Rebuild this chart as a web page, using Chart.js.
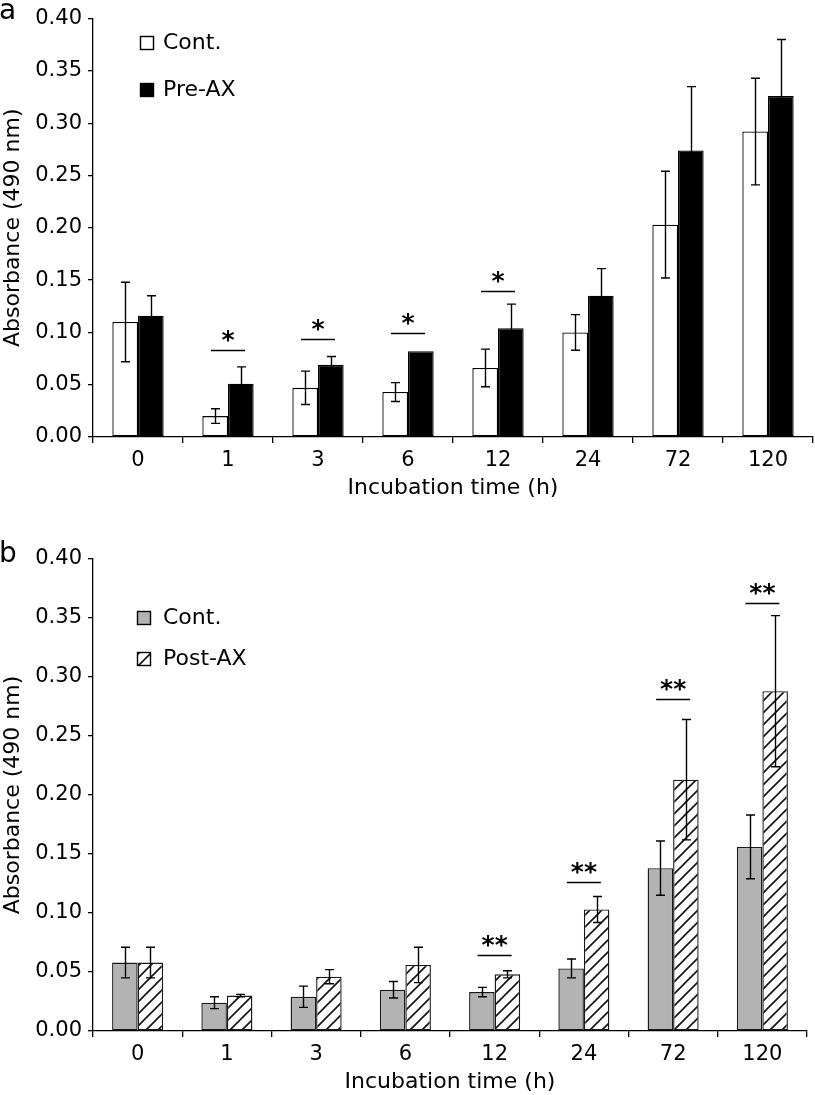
<!DOCTYPE html>
<html><head><meta charset="utf-8">
<script src="https://cdn.jsdelivr.net/npm/chart.js@4.4.0/dist/chart.umd.min.js"></script>
<style>
html,body{margin:0;padding:0;background:#fff;}
#wrapA{position:absolute;left:0;top:0;width:815px;height:502px;}
#wrapB{position:absolute;left:0;top:540px;width:815px;height:555px;}
canvas{display:block;}
</style></head><body>
<div id="wrapA"><canvas id="chartA" width="815" height="502"></canvas></div>
<div id="wrapB"><canvas id="chartB" width="815" height="555"></canvas></div>
<script>
// ---- data ----
const categories = ['0', '1', '3', '6', '12', '24', '72', '120'];

const contA    = [0.110, 0.020, 0.047, 0.043, 0.066, 0.100, 0.203, 0.292];
const contAErr = [0.038, 0.007, 0.016, 0.009, 0.018, 0.017, 0.051, 0.051];
const preAX    = [0.116, 0.051, 0.069, 0.082, 0.104, 0.135, 0.274, 0.326];
const preAXErr = [0.019, 0.016, 0.008, 0.000, 0.023, 0.026, 0.061, 0.054];
const sigA     = ['', '*', '*', '*', '*', '', '', ''];
const sigAY    = [null, 0.083, 0.094, 0.099, 0.140, null, null, null];

const contB    = [0.058, 0.024, 0.029, 0.035, 0.033, 0.053, 0.138, 0.156];
const contBErr = [0.013, 0.005, 0.009, 0.007, 0.004, 0.008, 0.023, 0.027];
const postAX   = [0.058, 0.030, 0.046, 0.056, 0.048, 0.103, 0.213, 0.288];
const postAXErr= [0.013, 0.001, 0.006, 0.015, 0.003, 0.011, 0.051, 0.064];
const sigB     = ['', '', '', '', '**', '**', '**', '**'];
const sigBY    = [null, null, null, null, 0.064, 0.126, 0.281, 0.363];

const yTickMin = 0, yTickMax = 0.40, yTickStep = 0.05;
const xTitle = 'Incubation time (h)';
const yTitle = 'Absorbance (490 nm)';

const FONT = '"DejaVu Sans", Verdana, sans-serif';

// ---- hatch pattern ----
function makeHatch() {
  const s = 12;
  const c = document.createElement('canvas');
  c.width = s; c.height = s;
  const g = c.getContext('2d');
  g.fillStyle = '#fff'; g.fillRect(0, 0, s, s);
  g.strokeStyle = '#111'; g.lineWidth = 1.6;
  g.beginPath();
  g.moveTo(-2, s + 2); g.lineTo(s + 2, -2);
  g.moveTo(-2, 2); g.lineTo(2, -2);
  g.moveTo(s - 2, s + 2); g.lineTo(s + 2, s - 2);
  g.stroke();
  return g.createPattern(c, 'repeat');
}
const hatch = makeHatch();

// ---- plugins ----
const errorBarPlugin = {
  id: 'errbars',
  afterDatasetsDraw(chart) {
    const ctx = chart.ctx, y = chart.scales.y;
    ctx.save();
    ctx.strokeStyle = '#000'; ctx.lineWidth = 1.4;
    chart.data.datasets.forEach((ds, di) => {
      const meta = chart.getDatasetMeta(di);
      meta.data.forEach((bar, i) => {
        const e = ds.errors[i];
        if (!e) return;
        const v = ds.data[i];
        const x = Math.round(bar.x) + 0.5;
        const yt = y.getPixelForValue(v + e), yb = y.getPixelForValue(v - e);
        ctx.beginPath();
        ctx.moveTo(x, yt); ctx.lineTo(x, yb);
        ctx.moveTo(x - 4.5, yt); ctx.lineTo(x + 4.5, yt);
        ctx.moveTo(x - 4.5, yb); ctx.lineTo(x + 4.5, yb);
        ctx.stroke();
      });
    });
    ctx.restore();
  }
};

const sigPlugin = {
  id: 'sig',
  afterDatasetsDraw(chart, args, opts) {
    const ctx = chart.ctx, xs = chart.scales.x, ys = chart.scales.y;
    ctx.save();
    ctx.strokeStyle = '#000'; ctx.fillStyle = '#000'; ctx.lineWidth = 1.4;
    ctx.font = 'bold 25px ' + FONT; ctx.textAlign = 'center'; ctx.textBaseline = 'alphabetic';
    opts.labels.forEach((lab, i) => {
      if (!lab) return;
      const cx = xs.getPixelForValue(i);
      const yy = Math.round(ys.getPixelForValue(opts.values[i])) + 0.5;
      ctx.beginPath(); ctx.moveTo(cx - 17, yy); ctx.lineTo(cx + 17, yy); ctx.stroke();
      ctx.fillText(lab, cx, yy - 3);
    });
    ctx.restore();
  }
};

const legendPlugin = {
  id: 'customLegend',
  afterDraw(chart, args, opts) {
    const ctx = chart.ctx;
    ctx.save();
    // panel letter
    ctx.fillStyle = '#000'; ctx.font = '28px ' + FONT;
    ctx.textAlign = 'left'; ctx.textBaseline = 'alphabetic';
    ctx.fillText(opts.panel, -1, opts.panelY);
    chart.data.datasets.forEach((ds, i) => {
      const it = opts.items[i];
      ctx.fillStyle = ds.backgroundColor;
      ctx.fillRect(opts.boxX, it.y, 14, 14);
      ctx.strokeStyle = '#000'; ctx.lineWidth = 1.4;
      ctx.strokeRect(opts.boxX + 0.5, it.y + 0.5, 13, 13);
      ctx.fillStyle = '#000'; ctx.font = '22px ' + FONT;
      ctx.textBaseline = 'middle';
      ctx.fillText(ds.label, opts.textX, it.y + 7);
    });
    ctx.restore();
  }
};

function makeOptions(cfg) {
  return {
    responsive: false, animation: false,
    layout: { padding: { left: 0, right: cfg.padRight, top: cfg.padTop, bottom: 0 } },
    plugins: {
      legend: { display: false }, tooltip: { enabled: false },
      sig: cfg.sig,
      customLegend: cfg.legend
    },
    scales: {
      x: {
        grid: { display: true, drawOnChartArea: false, color: '#000', tickLength: 6, lineWidth: 1.3, offset: true },
        border: { color: '#000', width: 1.3 },
        ticks: { color: '#000', font: { family: FONT, size: 21 }, padding: 5 },
        title: { display: true, text: xTitle, color: '#000', font: { family: FONT, size: 22 }, padding: { top: 0, bottom: cfg.titleBottom } },
        afterFit: s => { s.height = cfg.xHeight; }
      },
      y: {
        min: yTickMin, max: yTickMax,
        ticks: { stepSize: yTickStep, callback: v => v.toFixed(2), color: '#000', font: { family: FONT, size: 21 }, padding: 6 },
        grid: { drawOnChartArea: false, color: '#000', tickLength: 5, lineWidth: 1.3 },
        border: { color: '#000', width: 1.3 },
        title: { display: true, text: yTitle, color: '#000', font: { family: FONT, size: 22 }, padding: 0 },
        afterFit: s => { s.width = 93; }
      }
    }
  };
}

new Chart(document.getElementById('chartA'), {
  type: 'bar',
  data: {
    labels: categories,
    datasets: [
      { label: 'Cont.', data: contA, errors: contAErr, backgroundColor: '#ffffff', borderColor: '#000', borderWidth: 1.3, borderSkipped: false,
        categoryPercentage: 0.57, barPercentage: 1.0 },
      { label: 'Pre-AX', data: preAX, errors: preAXErr, backgroundColor: '#000000', borderColor: '#000', borderWidth: 1.3, borderSkipped: false,
        categoryPercentage: 0.57, barPercentage: 1.0 }
    ]
  },
  options: makeOptions({
    padRight: 2, padTop: 14, xHeight: 65, titleBottom: 1,
    sig: { labels: sigA, values: sigAY },
    legend: { panel: 'a', panelY: 19, boxX: 140, textX: 163, items: [{ y: 36 }, { y: 83 }] }
  }),
  plugins: [errorBarPlugin, sigPlugin, legendPlugin]
});

new Chart(document.getElementById('chartB'), {
  type: 'bar',
  data: {
    labels: categories,
    datasets: [
      { label: 'Cont.', data: contB, errors: contBErr, backgroundColor: '#b3b3b3', borderColor: '#1a1a1a', borderWidth: 1.4, borderSkipped: false,
        categoryPercentage: 0.572, barPercentage: 1.0 },
      { label: 'Post-AX', data: postAX, errors: postAXErr, backgroundColor: hatch, borderColor: '#1a1a1a', borderWidth: 1.4, borderSkipped: false,
        categoryPercentage: 0.572, barPercentage: 1.0 }
    ]
  },
  options: makeOptions({
    padRight: 8, padTop: 19, xHeight: 64, titleBottom: 0,
    sig: { labels: sigB, values: sigBY },
    legend: { panel: 'b', panelY: 22, boxX: 137, textX: 163, items: [{ y: 71 }, { y: 112 }] }
  }),
  plugins: [errorBarPlugin, sigPlugin, legendPlugin]
});
</script>
</body></html>
